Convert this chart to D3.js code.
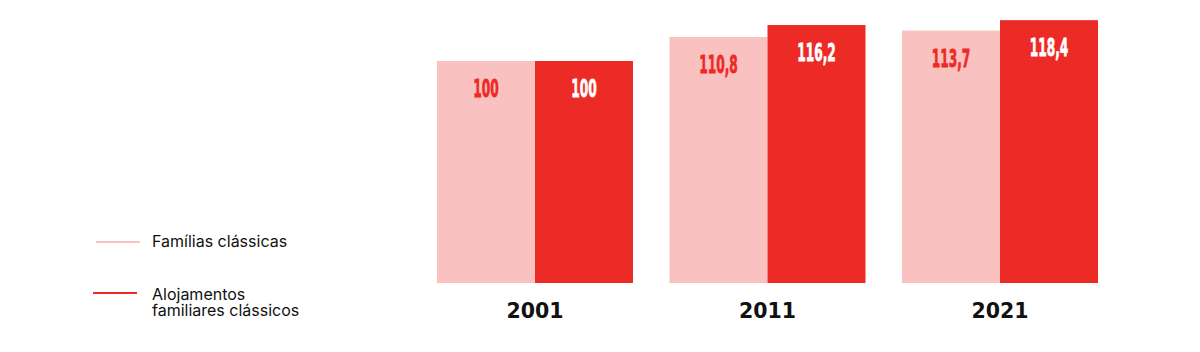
<!DOCTYPE html>
<html><head><meta charset="utf-8">
<script src="https://cdn.jsdelivr.net/npm/d3@7"></script>
<style>html,body{margin:0;padding:0;background:#fff;}svg{display:block;}</style>
</head><body>
<svg id="c" width="1200" height="352"></svg>
<script>
const years = ["2001", "2011", "2021"];
const seriesNames = ["Famílias clássicas", "Alojamentos familiares clássicos"];
const familias = [100, 110.8, 113.7];
const alojamentos = [100, 116.2, 118.4];
const colors = ["#F9C1BF", "#EC2B26"];
const labelColors = ["#EC2B26", "#FFFFFF"];

const svg = d3.select("#c");
const baseY = 283;
const x0 = d3.scaleBand().domain(years).range([437, 1098]).paddingInner(0.157).paddingOuter(0);
const x1 = d3.scaleBand().domain([0, 1]).range([0, x0.bandwidth()]);
const y = d3.scaleLinear().domain([0, 100]).range([baseY, 61]);

const data = years.map((yr, i) => ({year: yr, vals: [familias[i], alojamentos[i]]}));

const g = svg.selectAll("g.grp").data(data).join("g").attr("class", "grp")
  .attr("transform", d => `translate(${x0(d.year)},0)`);

g.selectAll("rect").data(d => d.vals.map((v, k) => ({v, k}))).join("rect")
  .attr("x", d => x1(d.k)).attr("width", x1.bandwidth())
  .attr("y", d => y(d.v)).attr("height", d => baseY - y(d.v))
  .attr("fill", d => colors[d.k]);

const fmt = v => (Number.isInteger(v) ? String(v) : v.toFixed(1).replace(".", ","));

const lbl = g.selectAll("text.val").data(d => d.vals.map((v, k) => ({v, k}))).join("text")
  .attr("class", "val")
  .attr("font-family", "DejaVu Sans").attr("font-weight", "bold").attr("font-size", 24.5)
  .attr("fill", d => labelColors[d.k])
  .attr("stroke", d => labelColors[d.k]).attr("stroke-width", 0.8)
  .attr("text-anchor", "middle")
  .text(d => fmt(d.v));
let base = 1;
lbl.each(function(d){ if (fmt(d.v) === "100") base = this.getComputedTextLength(); });
const sx = 25.5 / base;
lbl.attr("transform", d => `translate(${x1(d.k) + x1.bandwidth()/2},${y(d.v) + 36}) scale(${sx},1)`);

svg.selectAll("text.yr").data(years).join("text").attr("class", "yr")
  .attr("x", d => x0(d) + x0.bandwidth()/2).attr("y", 318)
  .attr("text-anchor", "middle")
  .attr("font-family", "DejaVu Sans").attr("font-weight", "bold").attr("font-size", 20.5)
  .attr("fill", "#111").text(d => d);

const leg = [
  {lines: ["Famílias clássicas"], x1: 96, x2: 140, ly: 242, ty: 247},
  {lines: ["Alojamentos", "familiares clássicos"], x1: 93, x2: 137, ly: 293, ty: 300}
];
leg.forEach((l, i) => {
  svg.append("line").attr("x1", l.x1).attr("x2", l.x2).attr("y1", l.ly).attr("y2", l.ly)
    .attr("stroke", colors[i]).attr("stroke-width", 2);
  l.lines.forEach((s, j) => svg.append("text").attr("x", 152).attr("y", l.ty + j * 16)
    .attr("font-family", "Inter").attr("font-size", 16).attr("fill", "#111").text(s));
});
</script>
</body></html>
